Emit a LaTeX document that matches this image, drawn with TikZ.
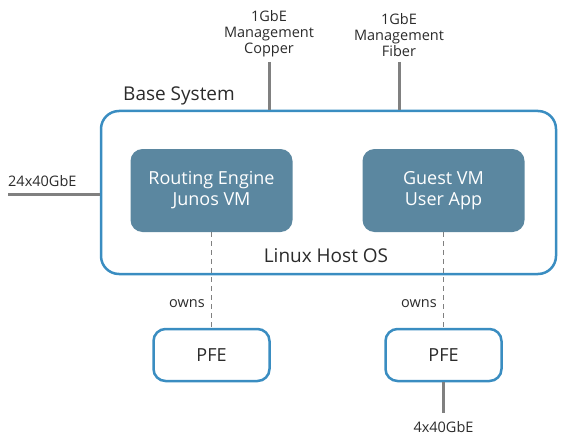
\documentclass[tikz,border=0pt]{standalone}
\usepackage{fontspec}
\setmainfont{Open Sans}
\usetikzlibrary{arrows,shapes}
\definecolor{hostblue}{HTML}{3A8DC1}
\definecolor{vmfill}{HTML}{5B87A0}
\definecolor{linkgray}{HTML}{808080}
\definecolor{txtgray}{HTML}{2B2B2B}
\tikzstyle{hostbox}=[rectangle,draw=hostblue,line width=2.5pt,rounded corners=18pt]
\tikzstyle{vmbox}=[rectangle,fill=vmfill,rounded corners=12pt,text=white,align=center,minimum width=162pt,minimum height=83pt,font=\fontsize{18}{21}\selectfont]
\tikzstyle{pfebox}=[rectangle,draw=hostblue,fill=white,line width=2.5pt,rounded corners=12pt,minimum width=116pt,minimum height=52pt,text=txtgray,font=\fontsize{18}{21}\selectfont]
\tikzstyle{link}=[draw=linkgray,line width=3pt]
\tikzstyle{ownsline}=[draw=linkgray,line width=1.6pt,dash pattern=on 5pt off 4pt]
\tikzstyle{portlabel}=[text=txtgray,align=center,font=\fontsize{14.5}{16}\selectfont,inner sep=0pt]
\tikzstyle{title}=[text=txtgray,font=\fontsize{19}{21}\selectfont,inner sep=0pt]

\begin{document}
\begin{tikzpicture}[x=1pt,y=-1pt]
    \useasboundingbox (0,0) rectangle (567,441);

    \node[hostbox, minimum width=455pt, minimum height=163pt] (base) at (328.5,192.5) {};

    \foreach \x/\name/\txt in {211.5/re/{Routing Engine\\Junos VM}, 443.5/guest/{Guest VM\\User App}}
        \node[vmbox] (\name) at (\x,190.5) {\txt};

    \foreach \x/\name in {211.5/pfeA, 443.5/pfeB}
        \node[pfebox] (\name) at (\x,355) {PFE};

    % management ports
    \foreach \x/\name/\kind in {269/mgcopper/Copper, 399/mgfiber/Fiber}
    {
        \coordinate (\name) at (\x,62);
        \path[link] (\name) -- (\name |- base.north);
        \node[portlabel, anchor=south] at (\x,57) {1GbE\\Management\\\kind};
    }

    % data ports
    \coordinate (p24) at (8,194);
    \path[link] (p24) -- (p24 -| base.west);
    \node[portlabel, anchor=base west] at (8,186) {24x40GbE};

    \coordinate (p4) at (443.5,413);
    \path[link] (pfeB.south) -- (p4);
    \node[portlabel, anchor=base] at (443.5,432) {4x40GbE};

    % ownership
    \foreach \source/\dest in {re/pfeA, guest/pfeB}
        \path[ownsline] (\source.south) -- node[portlabel, left=6pt, pos=0.75] {owns} (\dest.north);

    \node[title, anchor=base west] at (123,101) {Base System};
    \node[title, anchor=base] at (326,262) {Linux Host OS};

\end{tikzpicture}
\end{document}
